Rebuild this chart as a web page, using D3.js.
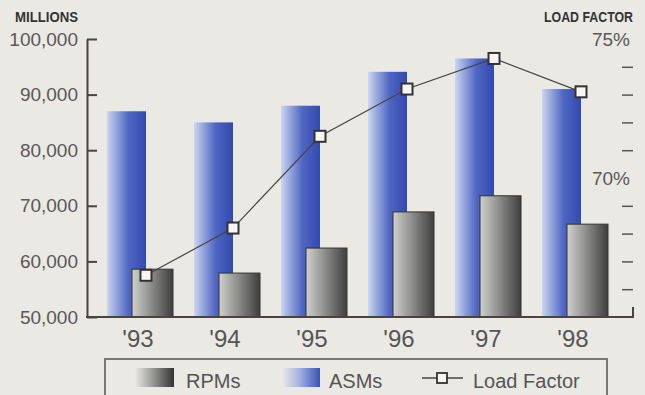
<!DOCTYPE html>
<html>
<head>
<meta charset="utf-8">
<script src="https://cdn.jsdelivr.net/npm/d3@7"></script>
<style>
  html, body { margin: 0; padding: 0; background: #ebe9e4; }
  svg { display: block; }
  text { font-family: "Liberation Sans", Arial, Helvetica, sans-serif; }
</style>
</head>
<body>
<svg id="chart" width="645" height="395"></svg>
<script>
// Airline traffic, 1993-1998
const years = ["'93", "'94", "'95", "'96", "'97", "'98"];
const asms = [87000, 85000, 88000, 94100, 96500, 91000];       // available seat miles (millions)
const rpms = [58600, 57900, 62400, 68900, 71800, 66700];       // revenue passenger miles (millions)
const loadFactor = [66.5, 68.2, 71.5, 73.2, 74.3, 73.1];       // percent
const millionsTicks = [50000, 60000, 70000, 80000, 90000, 100000];
const loadTicks = [66, 67, 68, 69, 70, 71, 72, 73, 74, 75];
const loadLabels = [70, 75];
const legendItems = ["RPMs", "ASMs", "Load Factor"];

const svg = d3.select("#chart");
const baseY = 317, topY = 39, leftX = 87, rightX = 633;

const x = d3.scaleBand().domain(years).range([97, 619]).padding(0);
const yL = d3.scaleLinear().domain([50000, 100000]).range([baseY, topY]);
const yR = d3.scaleLinear().domain([65, 75]).range([baseY, topY]);

// gradients
const defs = svg.append("defs");
function grad(id, stops) {
  const g = defs.append("linearGradient").attr("id", id)
    .attr("x1", "0%").attr("x2", "100%").attr("y1", "0%").attr("y2", "0%");
  stops.forEach(s => g.append("stop").attr("offset", s[0]).attr("stop-color", s[1]));
}
grad("blueGrad", [["0%", "#cdd6ef"], ["20%", "#9cade0"], ["55%", "#5066c3"], ["100%", "#3249b0"]]);
grad("grayGrad", [["0%", "#d0d0cd"], ["45%", "#8f8f8d"], ["100%", "#3e3e3d"]]);
grad("blueKey", [["0%", "#ebe9e4"], ["45%", "#a3b3e2"], ["100%", "#3a52b8"]]);
grad("grayKey", [["0%", "#ebe9e4"], ["45%", "#9a9a98"], ["100%", "#333333"]]);

// headers
svg.append("text").attr("x", 15).attr("y", 22)
  .attr("font-size", 14).attr("font-weight", "bold").attr("fill", "#333")
  .attr("textLength", 63).attr("lengthAdjust", "spacingAndGlyphs")
  .text("MILLIONS");
svg.append("text").attr("x", 544).attr("y", 22)
  .attr("font-size", 14).attr("font-weight", "bold").attr("fill", "#333")
  .attr("textLength", 89).attr("lengthAdjust", "spacingAndGlyphs")
  .text("LOAD FACTOR");

// ASM bars (behind)
svg.append("g").selectAll("rect").data(asms).join("rect")
  .attr("x", (d, i) => x(years[i]) + 10)
  .attr("width", 39)
  .attr("y", d => yL(d))
  .attr("height", d => baseY - yL(d))
  .attr("fill", "url(#blueGrad)");

// RPM bars (front)
svg.append("g").selectAll("rect").data(rpms).join("rect")
  .attr("x", (d, i) => x(years[i]) + 35)
  .attr("width", 41)
  .attr("y", d => yL(d))
  .attr("height", d => baseY - yL(d))
  .attr("fill", "url(#grayGrad)")
  .attr("stroke", "#333")
  .attr("stroke-width", 1);

// left axis
const axL = svg.append("g").attr("transform", `translate(${leftX},0)`)
  .call(d3.axisLeft(yL).tickValues(millionsTicks).tickSize(-10).tickSizeOuter(0)
    .tickPadding(9).tickFormat(d3.format(",")));
axL.select(".domain").attr("stroke", "#4a4343").attr("stroke-width", 2);
axL.selectAll(".tick line").attr("stroke", "#4a4343").attr("stroke-width", 2);
axL.selectAll(".tick text").attr("font-size", 19).attr("fill", "#5a5858")
  .attr("font-family", "\"Liberation Sans\", Arial, sans-serif");

// right axis: dashes with percent labels
const axR = svg.append("g").attr("transform", `translate(${rightX},0)`)
  .call(d3.axisLeft(yR).tickValues(loadTicks).tickSize(11).tickSizeOuter(0)
    .tickPadding(3).tickFormat(d => loadLabels.includes(d) ? d + "%" : ""));
axR.select(".domain").remove();
axR.selectAll(".tick line").attr("stroke", "#555").attr("stroke-width", 1.5)
  .attr("display", d => loadLabels.includes(d) ? "none" : null);
axR.selectAll(".tick text").attr("x", -3).attr("font-size", 19).attr("fill", "#5a5858")
  .attr("font-family", "\"Liberation Sans\", Arial, sans-serif");

// x axis labels
const axX = svg.append("g").attr("transform", `translate(0,${baseY})`)
  .call(d3.axisBottom(x).tickSize(0).tickSizeOuter(0));
axX.select(".domain").remove();
axX.selectAll(".tick text").attr("y", 30).attr("dy", 0).attr("dx", -2.5)
  .attr("font-size", 24).attr("fill", "#555")
  .attr("font-family", "\"Liberation Sans\", Arial, sans-serif");

// baseline with closing tick at the right end
svg.append("path")
  .attr("d", `M${leftX - 1},${baseY}H${rightX}V${baseY - 10}`)
  .attr("fill", "none").attr("stroke", "#4a4343").attr("stroke-width", 2);

// load factor line
const lx = (d, i) => x(years[i]) + 49;
svg.append("path").datum(loadFactor)
  .attr("d", d3.line().x(lx).y(d => yR(d)))
  .attr("fill", "none").attr("stroke", "#444").attr("stroke-width", 1.2);
svg.append("g").selectAll("rect").data(loadFactor).join("rect")
  .attr("x", (d, i) => lx(d, i) - 5.5)
  .attr("y", d => yR(d) - 5.5)
  .attr("width", 11).attr("height", 11)
  .attr("fill", "#f7f6f2").attr("stroke", "#333").attr("stroke-width", 2);

// legend
const lg = svg.append("g");
lg.append("rect").attr("x", 105).attr("y", 359).attr("width", 502).attr("height", 60)
  .attr("fill", "none").attr("stroke", "#7a7876").attr("stroke-width", 2);
lg.append("rect").attr("x", 135).attr("y", 368).attr("width", 39).attr("height", 19)
  .attr("fill", "url(#grayKey)");
lg.append("rect").attr("x", 282).attr("y", 368).attr("width", 38).attr("height", 19)
  .attr("fill", "url(#blueKey)");
lg.append("line").attr("x1", 422).attr("x2", 463).attr("y1", 378).attr("y2", 378)
  .attr("stroke", "#444").attr("stroke-width", 1.5);
lg.append("rect").attr("x", 437).attr("y", 373).attr("width", 10).attr("height", 10)
  .attr("fill", "#f7f6f2").attr("stroke", "#333").attr("stroke-width", 1.8);
const legendX = [186, 329, 473];
lg.selectAll("text.key").data(legendItems).join("text").attr("class", "key")
  .attr("x", (d, i) => legendX[i]).attr("y", 388)
  .attr("font-size", 20).attr("fill", "#555")
  .text(d => d);
</script>
</body>
</html>
